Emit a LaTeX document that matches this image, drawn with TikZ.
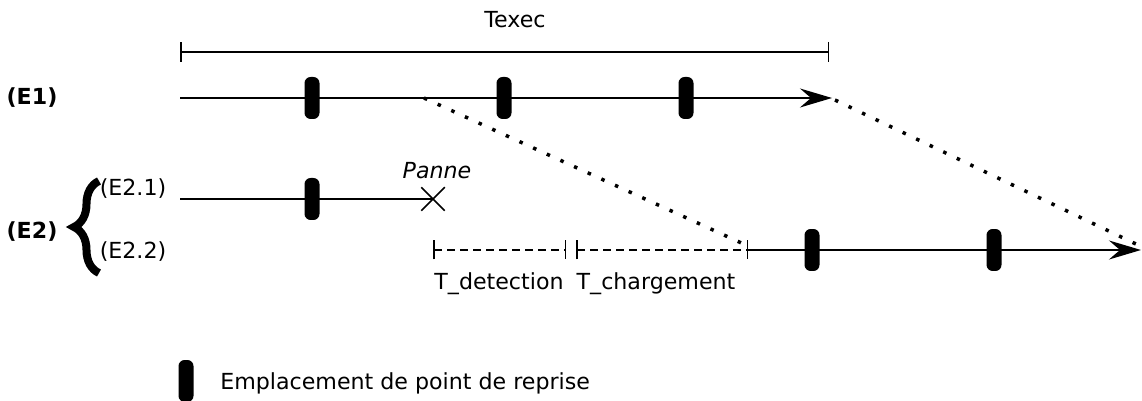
\documentclass[tikz,border=0pt]{standalone}
\usepackage{fontspec}
\setmainfont{DejaVu Sans}
\usetikzlibrary{arrows.meta,positioning}
\usetikzlibrary{decorations.pathreplacing}
\usetikzlibrary{shapes.misc}
\tikzset{
        txt/.style={inner sep=0pt, font=\fontsize{12.6}{15}\selectfont},
        % Checkpoint locations
        node_cp/.style={rectangle, rounded corners=3.5pt, fill=black, minimum width=0.3cm, minimum height=0.84cm, inner sep=0pt},
        % Execution lines
        line_exec/.style={line width=0.04cm, -{Stealth[length=0.64cm, width=0.38cm, inset=0.22cm]}},
        % Durations
        line_dur/.style={line width=0.03cm, {Bar[width=0.4cm]}-{Bar[width=0.4cm]}},
        line_wait/.style={line width=0.03cm, dash pattern=on 0.16cm off 0.1cm, {Bar[width=0.38cm]}-{Bar[width=0.38cm]}},
        % Shift of the execution
        line_shift/.style={line width=0.07cm, dash pattern=on 0.07cm off 0.23cm}
}
\begin{document}
\begin{tikzpicture}[x=0.02cm, y=-0.02cm]
    \useasboundingbox (0,0) rectangle (1142,401);
    % Texec
    \coordinate (t0) at (180,52);
    \coordinate (t1) at (829,52);
    \draw[line_dur] (t0) -- (t1);
    \node[txt] (texec) at (515,20) {Texec};
    % (E1)
    \node[txt, font=\fontsize{12.6}{15}\selectfont\bfseries] (e1) at (32,98) {(E1)};
    \coordinate (e1a) at (180,98);
    \coordinate (e1b) at (832,98);
    \coordinate (e1f) at (424,98);
    \draw[line_exec] (e1a) -- (e1b);
    \foreach \x/\n in {312/1, 504/2, 686/3}
        \node[node_cp] (cpa\n) at (\x,98) {};
    % (E2)
    \node[txt, font=\fontsize{12.6}{15}\selectfont\bfseries] (e2) at (32,232) {(E2)};
    \draw[line width=0.16cm, decorate, decoration={brace, amplitude=0.5cm}] (99,273) -- (99,181);
    \node[txt] (e21) at (133,189) {(E2.1)};
    \node[txt] (e22) at (133,252) {(E2.2)};
    % (E2.1)
    \coordinate (e21a) at (180,199);
    \node[draw, cross out, line width=0.03cm, minimum size=0.44cm, inner sep=0pt] (panne) at (433,199) {};
    \node[txt, font=\fontsize{12.6}{15}\selectfont\itshape] (lpanne) at (437,171) {Panne};
    \draw[line width=0.04cm] (e21a) -- (panne.center);
    \node[node_cp] (cpb1) at (312,199) {};
    % (E2.2)
    \coordinate (d0) at (433,250);
    \coordinate (d1) at (566,250);
    \coordinate (c0) at (576,250);
    \coordinate (c1) at (748,250);
    \coordinate (e22b) at (1141,250);
    \draw[line_wait] (d0) -- (d1);
    \draw[line_wait] (c0) -- (c1);
    \draw[line_exec] (c1) -- (e22b);
    \foreach \x/\n in {812/1, 994/2}
        \node[node_cp] (cpc\n) at (\x,250) {};
    \node[txt] (tdet) at (499,284) {T\_detection};
    \node[txt] (tchg) at (656,284) {T\_chargement};
    % shift
    \coordinate (s0) at (748,246);
    \coordinate (s1) at (835,100);
    \coordinate (s2) at (1138,245);
    \draw[line_shift] (e1f) -- (s0);
    \draw[line_shift] (s1) -- (s2);
    % legend
    \node[node_cp] (leg) at (186,381) {};
    \node[txt, anchor=west] (legtxt) at (220,383) {Emplacement de point de reprise};
\end{tikzpicture}
\end{document}
